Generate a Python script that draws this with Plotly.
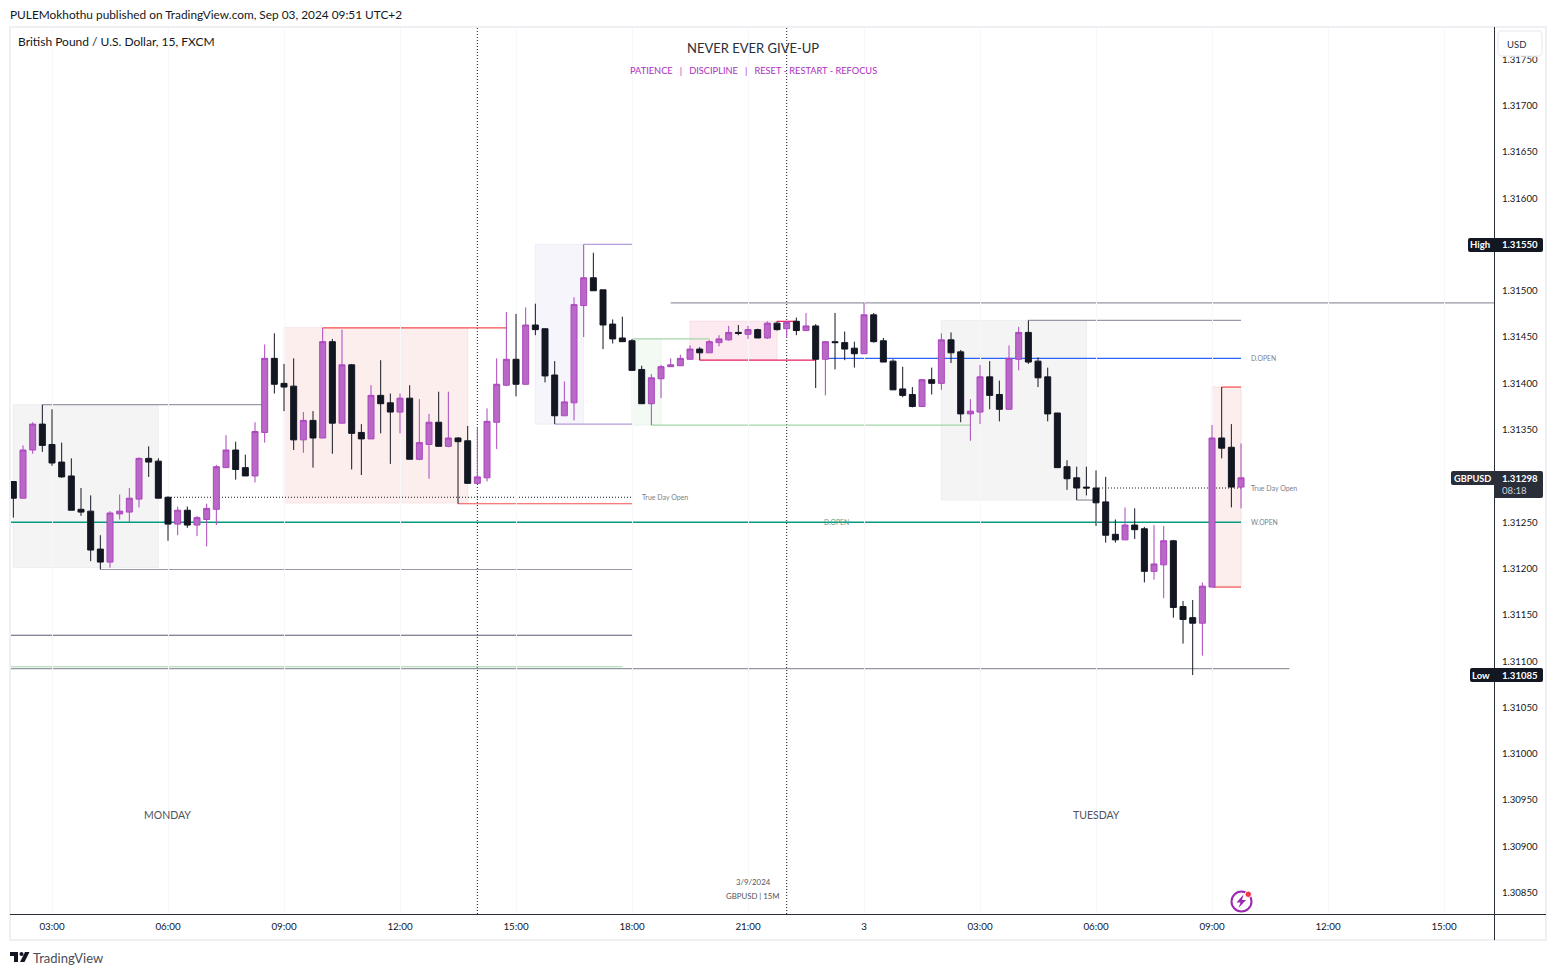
import pandas as pd
import plotly.graph_objs as go

# GBPUSD 15 minute candles, Mon 02:00 to Tue 09:45
start = pd.Timestamp('2024-09-02 02:00')

opens = [1.31294, 1.31276, 1.31328, 1.31356, 1.31334, 1.31315, 1.31300, 1.31264, 1.31262, 1.31221, 1.31207, 1.31259, 1.31261, 1.31275, 1.31319, 1.31316,
         1.31277, 1.31248, 1.31263, 1.31247, 1.31253, 1.31264, 1.31309, 1.31328, 1.31309, 1.31300, 1.31347, 1.31427, 1.31400, 1.31397, 1.31339, 1.31360,
         1.31341, 1.31445, 1.31357, 1.31420, 1.31347, 1.31340, 1.31387, 1.31379, 1.31369, 1.31384, 1.31318, 1.31334, 1.31358, 1.31332, 1.31341, 1.31338,
         1.31292, 1.31298, 1.31358, 1.31398, 1.31426, 1.31399, 1.31463, 1.31459, 1.31409, 1.31365, 1.31379, 1.31484, 1.31514, 1.31501, 1.31464, 1.31449,
         1.31446, 1.31415, 1.31378, 1.31405, 1.31418, 1.31419, 1.31426, 1.31437, 1.31433, 1.31444, 1.31447, 1.31455, 1.31453, 1.31458, 1.31449, 1.31465,
         1.31459, 1.31467, 1.31457, 1.31462, 1.31426, 1.31445, 1.31444, 1.31438, 1.31432, 1.31474, 1.31446, 1.31424, 1.31394, 1.31388, 1.31375, 1.31404,
         1.31400, 1.31447, 1.31434, 1.31367, 1.31369, 1.31407, 1.31388, 1.31372, 1.31426, 1.31455, 1.31424, 1.31407, 1.31368, 1.31310, 1.31298, 1.31288,
         1.31287, 1.31272, 1.31237, 1.31231, 1.31247, 1.31243, 1.31197, 1.31204, 1.31230, 1.31159, 1.31147, 1.31141, 1.31180, 1.31341, 1.31331, 1.31288]
highs = [1.31294, 1.31333, 1.31358, 1.31377, 1.31372, 1.31336, 1.31319, 1.31287, 1.31279, 1.31236, 1.31262, 1.31280, 1.31287, 1.31320, 1.31332, 1.31319,
         1.31278, 1.31267, 1.31267, 1.31257, 1.31270, 1.31312, 1.31344, 1.31337, 1.31323, 1.31358, 1.31442, 1.31454, 1.31421, 1.31427, 1.31369, 1.31370,
         1.31460, 1.31448, 1.31458, 1.31421, 1.31356, 1.31398, 1.31425, 1.31389, 1.31389, 1.31398, 1.31383, 1.31367, 1.31391, 1.31391, 1.31342, 1.31354,
         1.31353, 1.31373, 1.31427, 1.31477, 1.31475, 1.31482, 1.31486, 1.31459, 1.31424, 1.31402, 1.31493, 1.31550, 1.31541, 1.31501, 1.31469, 1.31472,
         1.31448, 1.31419, 1.31410, 1.31420, 1.31427, 1.31431, 1.31441, 1.31439, 1.31447, 1.31452, 1.31462, 1.31463, 1.31462, 1.31459, 1.31467, 1.31467,
         1.31467, 1.31471, 1.31476, 1.31464, 1.31445, 1.31476, 1.31456, 1.31445, 1.31487, 1.31476, 1.31449, 1.31426, 1.31418, 1.31396, 1.31404, 1.31417,
         1.31454, 1.31455, 1.31436, 1.31383, 1.31420, 1.31424, 1.31403, 1.31441, 1.31461, 1.31468, 1.31428, 1.31417, 1.31368, 1.31317, 1.31310, 1.31310,
         1.31306, 1.31299, 1.31253, 1.31266, 1.31265, 1.31245, 1.31247, 1.31246, 1.31231, 1.31165, 1.31166, 1.31185, 1.31355, 1.31396, 1.31356, 1.31335]
lows = [1.31255, 1.31276, 1.31324, 1.31326, 1.31311, 1.31298, 1.31263, 1.31257, 1.31208, 1.31199, 1.31201, 1.31253, 1.31250, 1.31266, 1.31299, 1.31276,
        1.31230, 1.31236, 1.31244, 1.31235, 1.31224, 1.31247, 1.31309, 1.31296, 1.31300, 1.31293, 1.31336, 1.31389, 1.31370, 1.31328, 1.31325, 1.31309,
        1.31341, 1.31324, 1.31357, 1.31307, 1.31301, 1.31340, 1.31346, 1.31313, 1.31346, 1.31318, 1.31317, 1.31297, 1.31332, 1.31331, 1.31270, 1.31292,
        1.31292, 1.31294, 1.31329, 1.31397, 1.31386, 1.31399, 1.31452, 1.31401, 1.31356, 1.31365, 1.31360, 1.31450, 1.31500, 1.31437, 1.31443, 1.31445,
        1.31414, 1.31378, 1.31355, 1.31384, 1.31418, 1.31419, 1.31426, 1.31425, 1.31433, 1.31440, 1.31446, 1.31452, 1.31448, 1.31449, 1.31448, 1.31457,
        1.31449, 1.31452, 1.31457, 1.31395, 1.31387, 1.31415, 1.31425, 1.31417, 1.31432, 1.31444, 1.31423, 1.31393, 1.31385, 1.31374, 1.31375, 1.31388,
        1.31393, 1.31422, 1.31358, 1.31338, 1.31356, 1.31372, 1.31359, 1.31372, 1.31414, 1.31421, 1.31396, 1.31359, 1.31309, 1.31285, 1.31274, 1.31279,
        1.31246, 1.31228, 1.31228, 1.31231, 1.31232, 1.31185, 1.31188, 1.31168, 1.31147, 1.31119, 1.31085, 1.31106, 1.31180, 1.31319, 1.31266, 1.31265]
closes = [1.31276, 1.31328, 1.31356, 1.31333, 1.31314, 1.31299, 1.31263, 1.31261, 1.31220, 1.31207, 1.31260, 1.31262, 1.31276, 1.31319, 1.31315, 1.31276,
          1.31248, 1.31263, 1.31247, 1.31255, 1.31265, 1.31310, 1.31328, 1.31307, 1.31300, 1.31348, 1.31427, 1.31399, 1.31396, 1.31339, 1.31360, 1.31341,
          1.31445, 1.31357, 1.31420, 1.31346, 1.31340, 1.31387, 1.31378, 1.31369, 1.31384, 1.31318, 1.31336, 1.31358, 1.31332, 1.31341, 1.31337, 1.31292,
          1.31299, 1.31359, 1.31399, 1.31426, 1.31399, 1.31463, 1.31458, 1.31408, 1.31365, 1.31380, 1.31485, 1.31514, 1.31500, 1.31463, 1.31448, 1.31445,
          1.31414, 1.31378, 1.31406, 1.31418, 1.31420, 1.31427, 1.31437, 1.31433, 1.31445, 1.31448, 1.31455, 1.31454, 1.31458, 1.31449, 1.31465, 1.31458,
          1.31466, 1.31457, 1.31462, 1.31426, 1.31445, 1.31444, 1.31437, 1.31432, 1.31474, 1.31445, 1.31423, 1.31393, 1.31387, 1.31375, 1.31404, 1.31400,
          1.31447, 1.31433, 1.31367, 1.31370, 1.31407, 1.31387, 1.31372, 1.31427, 1.31455, 1.31423, 1.31406, 1.31367, 1.31309, 1.31297, 1.31287, 1.31287,
          1.31271, 1.31236, 1.31231, 1.31247, 1.31242, 1.31197, 1.31205, 1.31230, 1.31158, 1.31145, 1.31141, 1.31181, 1.31341, 1.31330, 1.31288, 1.31298]

price_ticks = [1.3085, 1.3090, 1.3095, 1.3100, 1.3105, 1.3110, 1.3115, 1.3120, 1.3125, 1.3130,
               1.3135, 1.3140, 1.3145, 1.3150, 1.3155, 1.3160, 1.3165, 1.3170, 1.3175]
time_ticks = ['2024-09-02 03:00', '2024-09-02 06:00', '2024-09-02 09:00', '2024-09-02 12:00', '2024-09-02 15:00',
              '2024-09-02 18:00', '2024-09-02 21:00', '2024-09-03 00:00', '2024-09-03 03:00', '2024-09-03 06:00',
              '2024-09-03 09:00', '2024-09-03 12:00', '2024-09-03 15:00']
time_labels = ['03:00', '06:00', '09:00', '12:00', '15:00', '18:00', '21:00', '3', '03:00', '06:00', '09:00', '12:00', '15:00']

W, H = 1556, 975
LEFT, RIGHT, TOP, BOTTOM = 10, 1494, 27, 914
FONT = 'Lato'
INK = '#131722'
SLATE = '#2a2e39'
UP_FILL = '#ba68c8'
UP_LINE = '#ab47bc'
LINE_GREY = '#9b98ab'
TEAL = '#089981'
LIGHT_GREEN = '#a5d6a7'
LAVENDER = '#b39ddb'
RED = '#f44f4f'
PINK = '#e91e63'
BLUE = '#2962ff'


def t(i):
    # time of bar number i, fractions allowed
    return (start + pd.Timedelta(minutes=15 * i)).strftime('%Y-%m-%d %H:%M:%S')


def px(x):
    return (x - LEFT) / (RIGHT - LEFT)


def py(y):
    return (BOTTOM - y) / (BOTTOM - TOP)


shapes = []
notes = []


def box(i0, i1, top, bottom, fill, edge):
    shapes.append(dict(type='rect', layer='below', x0=t(i0), x1=t(i1), y0=bottom, y1=top,
                       fillcolor=fill, line=dict(color=edge, width=1)))


def level(i0, i1, price, color, width=1.2, dash='solid'):
    shapes.append(dict(type='line', layer='below', x0=t(i0), x1=t(i1), y0=price, y1=price,
                       line=dict(color=color, width=width, dash=dash)))


def paper_path(d, fill, line=None, width=0):
    shapes.append(dict(type='path', xref='paper', yref='paper', path=d, fillcolor=fill,
                       line=dict(color=line or fill, width=width)))


def rounded(x0, y0, x1, y1, r, left=True, right=True):
    rl = r if left else 0
    rr = r if right else 0
    return (f'M{px(x0 + rl)},{py(y0)} L{px(x1 - rr)},{py(y0)} Q{px(x1)},{py(y0)} {px(x1)},{py(y0 + rr)} '
            f'L{px(x1)},{py(y1 - rr)} Q{px(x1)},{py(y1)} {px(x1 - rr)},{py(y1)} L{px(x0 + rl)},{py(y1)} '
            f'Q{px(x0)},{py(y1)} {px(x0)},{py(y1 - rl)} L{px(x0)},{py(y0 + rl)} Q{px(x0)},{py(y0)} {px(x0 + rl)},{py(y0)} Z')


def poly(points):
    return 'M' + ' L'.join(f'{px(x)},{py(y)}' for x, y in points) + ' Z'


def text_px(x, y, s, size, color=INK, anchor='left', weight=None):
    notes.append(dict(xref='paper', yref='paper', x=px(x), y=py(y), text=s, showarrow=False, xanchor=anchor,
                      yanchor='middle', font=dict(family=FONT, size=size, color=color, weight=weight)))


def text_at(i, price, s, size, color, anchor='left'):
    notes.append(dict(x=t(i), y=price, text=s, showarrow=False, xanchor=anchor, yanchor='middle',
                      font=dict(family=FONT, size=size, color=color)))


# session boxes
box(0, 15, 1.31377, 1.31201, '#f4f4f5', '#ecedef')
box(28, 47, 1.31460, 1.31271, '#fdeeee', '#f9e2e2')
box(54, 59, 1.31550, 1.31356, '#f6f5fb', '#f0eef6')
box(64, 67, 1.31448, 1.31355, '#f3faf4', '#e8f3ea')
box(70, 79, 1.31467, 1.31426, '#fdeaf0', '#fadde6')
box(96, 111, 1.31468, 1.31274, '#f4f4f5', '#ecedef')
box(124, 127, 1.31396, 1.31181, '#fdeeee', '#f9dfdf')

# liquidity levels
level(3, 26, 1.31377, LINE_GREY)
level(9, 64, 1.31199, LINE_GREY)
level(32, 51, 1.31460, RED)
level(46, 64, 1.31270, RED)
level(125, 127, 1.31396, RED)
level(124, 127, 1.31180, RED)
level(59, 64, 1.31550, LAVENDER)
level(56, 64, 1.31356, LAVENDER)
level(64, 72, 1.31448, LIGHT_GREEN)
level(66, 99, 1.31355, LIGHT_GREEN)
level(71, 83, 1.31425, PINK)
level(79, 81, 1.31467, PINK)
level(84, 127, 1.31427, BLUE)
level(68, 153.2, 1.31487, '#9598a1')
level(105, 127, 1.31468, LINE_GREY)
level(110, 112, 1.31274, '#9598a1')
level(16, 64, 1.31277, INK, width=1, dash='1px,2px')
level(112, 127, 1.31287, INK, width=1, dash='1px,2px')
level(-0.35, 127, 1.31250, TEAL, width=1.4)
level(-0.35, 64, 1.31128, '#5d5a75')
level(-0.35, 63, 1.31094, LIGHT_GREEN)
level(-0.35, 132, 1.31092, '#9598a1')

# day separators
for i in [48, 80]:
    shapes.append(dict(type='line', layer='below', x0=t(i), x1=t(i), y0=0, y1=1, yref='paper',
                       line=dict(color=INK, width=1, dash='1px,2px')))

# frame and axis lines
shapes.append(dict(type='rect', xref='paper', yref='paper', x0=px(10), x1=px(1546), y0=py(27), y1=py(940),
                   line=dict(color='#eff0f3', width=2)))
shapes.append(dict(type='line', xref='paper', yref='paper', x0=px(1494.5), x1=px(1494.5), y0=py(27), y1=py(940),
                   line=dict(color=SLATE, width=1)))
shapes.append(dict(type='line', xref='paper', yref='paper', x0=px(10), x1=px(1546), y0=py(914.5), y1=py(914.5),
                   line=dict(color=SLATE, width=1)))

# USD button
paper_path(rounded(1498, 31, 1542, 56, 4), 'white', '#eff0f3', 1.5)

# price scale labels
paper_path(rounded(1468, 238, 1494, 252, 2, right=False), INK)
paper_path(rounded(1494, 238, 1543, 252, 2, left=False), INK)
paper_path(rounded(1470, 668, 1494, 682, 2, right=False), INK)
paper_path(rounded(1494, 668, 1543, 682, 2, left=False), INK)
paper_path(rounded(1451, 471, 1494, 485, 2, right=False), SLATE)
paper_path(rounded(1494, 471, 1543, 498, 2, left=False), SLATE)

# TradingView mark
paper_path(poly([(10, 952), (18, 952), (18, 962), (14, 962), (14, 956), (10, 956)]), INK)
shapes.append(dict(type='circle', xref='paper', yref='paper', x0=px(19.5), x1=px(23.5), y0=py(952), y1=py(956),
                   fillcolor=INK, line=dict(width=0)))
paper_path(poly([(25, 952), (29.5, 952), (24.5, 962), (20, 962)]), INK)

# bolt badge
shapes.append(dict(type='circle', xref='paper', yref='paper', x0=px(1231.5), x1=px(1251.5), y0=py(891.5), y1=py(911.5),
                   line=dict(color='#9c27b0', width=2)))
paper_path(poly([(1243.5, 894.5), (1236.5, 902.5), (1240.5, 902.5), (1238.5, 908), (1246, 900), (1242, 900)]), '#9c27b0')
shapes.append(dict(type='circle', xref='paper', yref='paper', x0=px(1245), x1=px(1251.5), y0=py(891), y1=py(897.5),
                   fillcolor='#f23645', line=dict(color='white', width=1)))

text_px(8, 14.5, 'PULEMokhothu published on TradingView.com, Sep 03, 2024 09:51 UTC+2', 11.85, INK)
text_px(16, 42, 'British Pound / U.S. Dollar, 15, FXCM', 12, INK)
text_px(753, 48, 'NEVER EVER GIVE-UP', 13, SLATE, 'center')
text_px(753, 70, 'PATIENCE &nbsp;&nbsp;|&nbsp;&nbsp; DISCIPLINE &nbsp;&nbsp;|&nbsp;&nbsp; RESET - RESTART - REFOCUS', 9.25, '#ab2fc0', 'center')
text_px(167, 815, 'MONDAY', 10.5, '#50535e', 'center')
text_px(1096, 815, 'TUESDAY', 10.5, '#50535e', 'center')
text_px(753, 882, '3/9/2024', 7.8, '#50535e', 'center')
text_px(753, 896, 'GBPUSD | 15M', 7.8, '#50535e', 'center')
text_px(1516, 44, 'USD', 9.5, SLATE, 'center')
text_px(1480, 245, 'High', 9.5, 'white', 'center', 'bold')
text_px(1520, 245, '1.31550', 9.6, 'white', 'center', 'bold')
text_px(1481, 675, 'Low', 9.5, 'white', 'center', 'bold')
text_px(1520, 675, '1.31085', 9.6, 'white', 'center', 'bold')
text_px(1472.5, 478, 'GBPUSD', 9.2, 'white', 'center', 'bold')
text_px(1520, 478, '1.31298', 9.6, 'white', 'center', 'bold')
text_px(1514.5, 491, '08:18', 9.6, '#d1d4dc', 'center')
text_px(31, 957.5, 'TradingView', 13, '#4a4e59')

text_at(64.8, 1.31277, 'True Day Open', 7, '#7d8089')
text_at(127.8, 1.31287, 'True Day Open', 7, '#7d8089')
text_at(127.8, 1.31427, 'D.OPEN', 6.8, '#7d8089')
text_at(127.8, 1.31250, 'W.OPEN', 6.8, '#7d8089')
text_at(85.2, 1.31250, 'D.OPEN', 6.8, '#5a9e90', 'center')

trace = go.Candlestick(x=[t(i) for i in range(len(opens))], open=opens, high=highs, low=lows, close=closes,
                       increasing=dict(fillcolor=UP_FILL, line=dict(color=UP_LINE, width=1)),
                       decreasing=dict(fillcolor=INK, line=dict(color=INK, width=1)),
                       whiskerwidth=0, hoverinfo='skip', showlegend=False)

layout = go.Layout(width=W, height=H, margin=dict(l=LEFT, r=W - RIGHT, t=TOP, b=H - BOTTOM, pad=0),
                   paper_bgcolor='white', plot_bgcolor='white', showlegend=False,
                   boxgap=0.38, boxgroupgap=0,
                   font=dict(family=FONT, size=10, color=INK), shapes=shapes, annotations=notes,
                   xaxis=dict(type='date', range=[t(-0.345), t(153.17)], rangeslider=dict(visible=False),
                              tickmode='array', tickvals=time_ticks, ticktext=time_labels,
                              showgrid=True, gridcolor='#f8f8fa', gridwidth=1, zeroline=False, showline=False,
                              ticks='outside', ticklen=3, tickcolor='rgba(0,0,0,0)',
                              tickfont=dict(family=FONT, size=9.8, color=INK)),
                   yaxis=dict(side='right', range=[1.30827, 1.317848], tickmode='array', tickvals=price_ticks,
                              ticktext=[f'{p:.5f}' for p in price_ticks], showgrid=False, zeroline=False, showline=False,
                              ticks='outside', ticklen=5, tickcolor='rgba(0,0,0,0)',
                              tickfont=dict(family=FONT, size=9.6, color=INK)))

fig = go.Figure(data=[trace], layout=layout)
fig.write_html('out.html', config=dict(displayModeBar=False),
               post_script="document.body.style.margin='0';document.documentElement.style.overflow='hidden';")
